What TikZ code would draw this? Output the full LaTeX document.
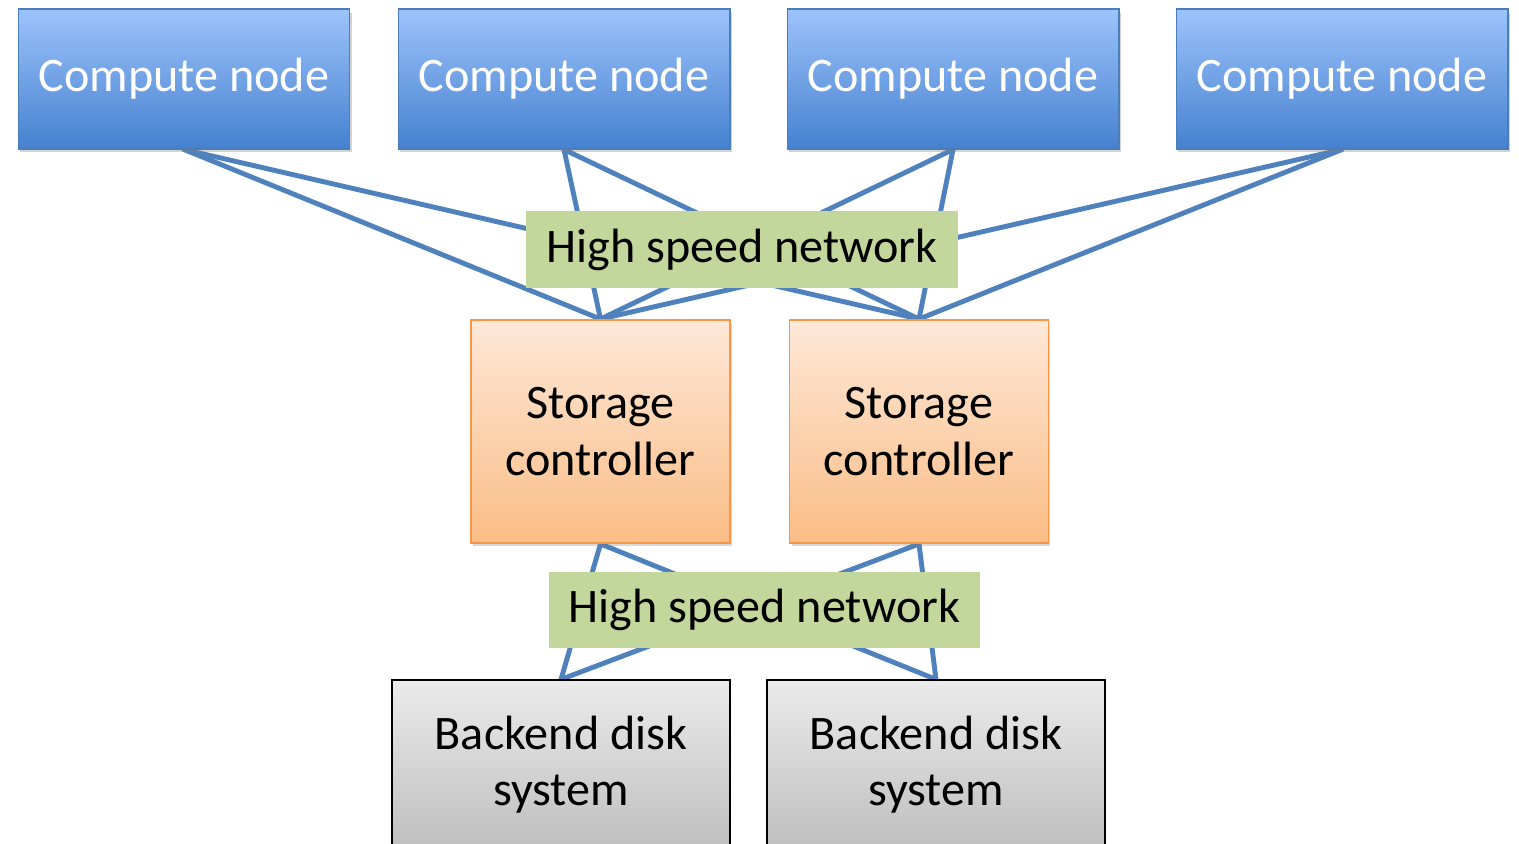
\documentclass[tikz,border=0pt]{standalone}
\usepackage{fontspec}
\setmainfont{Carlito}
\usetikzlibrary{shadows,backgrounds}
\definecolor{linkblue}{HTML}{4F81BD}
\definecolor{cnTop}{HTML}{9DC3FB}
\definecolor{cnBot}{HTML}{4581D0}
\definecolor{cnEdge}{HTML}{4A7EBB}
\definecolor{scTop}{HTML}{FDE8D8}
\definecolor{scBot}{HTML}{FBBD86}
\definecolor{scEdge}{HTML}{F79646}
\definecolor{bdTop}{HTML}{EBEBEB}
\definecolor{bdBot}{HTML}{BEBEBE}
\definecolor{netGreen}{HTML}{C3D69B}
\tikzset{
  boxtext/.style={font=\fontsize{27.4}{32}\selectfont, align=center, inner sep=0pt},
  compute/.style={boxtext, text=white, shading=axis, top color=cnTop, bottom color=cnBot,
    draw=cnEdge, line width=0.6pt, minimum width=6.64cm, minimum height=2.8cm,
    drop shadow={shadow xshift=0.04cm, shadow yshift=-0.07cm, opacity=0.35}},
  storage/.style={boxtext, shading=axis, top color=scTop, bottom color=scBot,
    draw=scEdge, line width=1.1pt, minimum width=5.18cm, minimum height=4.46cm,
    drop shadow={shadow xshift=0.04cm, shadow yshift=-0.07cm, opacity=0.3}},
  backend/.style={boxtext, shading=axis, top color=bdTop, bottom color=bdBot,
    draw=black, line width=0.7pt, minimum width=6.76cm, minimum height=3.4cm},
  network/.style={boxtext, fill=netGreen, minimum height=1.53cm},
  link/.style={draw=linkblue, line width=2.8pt, line cap=round, line join=round},
}
\begin{document}
\begin{tikzpicture}[x=0.02cm, y=-0.02cm]
  \useasboundingbox (0,0) rectangle (1519,844);
  \clip (0,0) rectangle (1519,844);

  % compute tier
  \node[compute] (c1) at (184,79)  {Compute node};
  \node[compute] (c2) at (564,79)  {Compute node};
  \node[compute] (c3) at (953,79)  {Compute node};
  \node[compute] (c4) at (1342,79) {Compute node};

  % storage controllers
  \node[storage] (s1) at (600.5,431.5) {Storage\\controller};
  \node[storage] (s2) at (919,431.5)   {Storage\\controller};

  % backend disks (run off the bottom edge)
  \node[backend] (b1) at (561,765) {Backend disk\\system};
  \node[backend] (b2) at (936,765) {Backend disk\\system};

  % links, kept behind every box
  \begin{pgfonlayer}{background}
    \foreach \c in {c1,c2,c3,c4}{
      \foreach \s in {s1,s2}{
        \path[link] (\c.south) -- (\s.north);
      }
    }
    \foreach \s in {s1,s2}{
      \foreach \b in {b1,b2}{
        \path[link] (\s.south) -- (\b.north);
      }
    }
  \end{pgfonlayer}

  % network labels sit on top of the links
  \node[network, minimum width=8.64cm] (n1) at (742,249.5) {High speed network};
  \node[network, minimum width=8.62cm] (n2) at (764.5,610) {High speed network};
\end{tikzpicture}
\end{document}
